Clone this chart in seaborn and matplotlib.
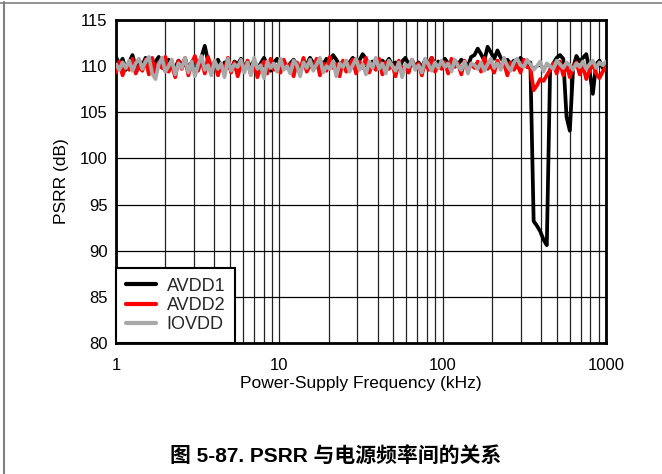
import numpy as np
import pandas as pd
import matplotlib
matplotlib.use("Agg")
import matplotlib.pyplot as plt
from matplotlib.lines import Line2D
import seaborn as sns

# ---- data ----
FREQ_KHZ = np.logspace(0, 3, 150)   # sweep points, 1 kHz .. 1000 kHz

AVDD1 = [
    111.0, 110.2, 110.8, 109.6, 110.4, 111.2, 109.9, 110.6, 110.1, 110.9,
    110.3, 109.7, 110.5, 111.0, 110.0, 109.5, 110.7, 110.2, 109.8, 110.6,
    110.1, 110.8, 109.7, 110.4, 110.9, 110.0, 111.0, 112.2, 110.5, 109.8,
    110.3, 110.7, 109.9, 110.4, 110.1, 109.6, 110.5, 110.2, 110.8, 109.9,
    110.4, 110.0, 110.6, 109.7, 110.3, 110.9, 110.1, 109.5, 110.4, 110.8,
    110.0, 110.5, 109.8, 110.3, 110.7, 110.1, 109.6, 110.4, 110.2, 110.9,
    110.3, 109.9, 110.6, 110.2, 110.8, 110.4, 111.2, 110.7, 110.1, 110.5,
    109.8, 110.4, 110.9, 110.2, 110.6, 111.3, 110.8, 110.0, 110.5, 110.3,
    109.9, 110.6, 110.2, 110.8, 110.1, 110.4, 109.7, 110.5, 110.9, 110.2,
    110.6, 110.0, 110.4, 109.8, 110.7, 110.3, 110.9, 110.1, 110.5, 110.2,
    110.8, 110.3, 109.9, 110.6, 110.2, 110.7, 110.4, 110.0, 111.0, 111.2,
    111.9, 111.3, 110.6, 112.1, 111.5, 110.8, 111.7, 110.9, 110.4, 110.7,
    110.2, 110.6, 110.3, 110.9, 110.5, 110.1, 110.4, 93.2, 92.7, 92.1,
    91.2, 90.6, 109.6, 110.3, 110.9, 111.2, 110.8, 104.5, 103.0, 109.8,
    111.1, 110.5, 110.9, 111.3, 109.5, 107.0, 110.2, 110.6, 109.8, 110.3,
]

AVDD2 = [
    109.3, 110.5, 109.0, 110.1, 109.6, 110.8, 109.2, 110.0, 109.5, 110.7,
    109.1, 110.9, 108.9, 110.4, 109.8, 111.0, 109.4, 110.2, 108.8, 110.6,
    109.7, 110.9, 109.0, 110.3, 111.1, 109.5, 110.7, 109.2, 111.0, 109.8,
    110.5, 109.0, 110.2, 109.6, 110.9, 109.3, 110.4, 108.9, 110.1, 109.7,
    110.6, 109.1, 110.3, 108.8, 109.9, 110.5, 109.2, 110.8, 109.6, 110.0,
    109.3, 110.7, 109.8, 110.2, 108.9, 110.4, 109.6, 110.9, 109.4, 110.1,
    109.7, 110.8, 109.0, 110.3, 109.5, 111.0, 109.8, 110.2, 108.9, 110.6,
    109.4, 110.1, 110.7, 109.2, 110.5, 109.8, 110.9, 109.3, 110.2, 109.6,
    110.8, 109.1, 110.4, 109.7, 110.2, 108.9, 110.6, 109.5, 110.0, 109.3,
    110.7, 109.8, 110.3, 109.0, 110.5, 109.6, 110.9, 109.4, 110.1, 109.7,
    110.4, 109.2, 110.8, 109.9, 110.3, 109.1, 110.6, 109.5, 110.2, 109.8,
    110.5, 109.4, 110.9, 109.7, 110.1, 109.3, 110.6, 109.8, 110.3, 109.0,
    110.4, 109.6, 110.2, 109.3, 110.7, 109.9, 109.8, 107.4, 107.9, 108.6,
    108.4, 109.0, 109.6, 110.3, 109.2, 110.5, 109.0, 110.2, 108.8, 109.9,
    110.4, 109.1, 110.0, 108.6, 109.5, 110.3, 109.2, 108.7, 109.4, 110.0,
]

IOVDD = [
    110.2, 109.6, 110.4, 109.8, 110.6, 109.5, 110.3, 110.8, 109.7, 110.5,
    111.0, 109.2, 108.6, 110.2, 110.9, 109.4, 110.0, 110.7, 109.1, 110.3,
    109.8, 110.9, 109.3, 110.5, 108.9, 110.2, 111.1, 109.6, 110.1, 109.0,
    110.6, 109.7, 110.3, 108.8, 110.8, 109.5, 110.2, 109.9, 110.7, 109.3,
    110.4, 109.0, 110.9, 109.7, 110.1, 108.7, 110.5, 109.8, 110.3, 109.4,
    110.8, 109.6, 110.0, 109.2, 110.6, 110.1, 108.9, 110.4, 109.8, 110.7,
    109.5, 110.2, 110.9, 109.3, 110.0, 109.7, 110.5, 108.9, 110.3, 109.9,
    110.6, 109.4, 110.1, 110.8, 109.6, 110.2, 109.1, 110.5, 109.8, 110.9,
    109.7, 110.3, 109.2, 110.6, 110.0, 109.5, 110.4, 108.8, 110.2, 109.9,
    110.7, 109.6, 110.1, 109.3, 110.8, 110.2, 109.5, 110.4, 109.8, 110.6,
    109.9, 110.3, 109.4, 110.7, 110.0, 109.6, 110.5, 109.2, 110.3, 110.1,
    109.7, 110.4, 109.5, 110.2, 110.8, 109.8, 110.3, 109.6, 110.9, 110.0,
    109.5, 110.4, 110.8, 110.1, 109.9, 110.7, 110.2, 109.6, 110.0, 110.5,
    109.4, 110.3, 110.0, 109.7, 110.6, 110.2, 109.8, 110.4, 110.1, 109.6,
    110.3, 109.9, 110.5, 109.7, 110.2, 110.6, 109.8, 110.4, 110.1, 110.5,
]

SERIES = ["AVDD1", "AVDD2", "IOVDD"]
COLORS = {"AVDD1": "#000000", "AVDD2": "#ff0000", "IOVDD": "#a8a8a8"}
Y_TICKS = [80, 85, 90, 95, 100, 105, 110, 115]
X_TICKS = [1, 10, 100, 1000]
X_TICK_LABELS = ["1", "10", "100", "1000"]

df = pd.concat([
    pd.DataFrame({"freq": FREQ_KHZ, "psrr": AVDD1, "rail": "AVDD1"}),
    pd.DataFrame({"freq": FREQ_KHZ, "psrr": AVDD2, "rail": "AVDD2"}),
    pd.DataFrame({"freq": FREQ_KHZ, "psrr": IOVDD, "rail": "IOVDD"}),
], ignore_index=True)

# ---- style ----
sns.set_theme(style="white")
plt.rcParams["font.family"] = ["Liberation Sans", "Noto Sans CJK SC", "DejaVu Sans"]

fig = plt.figure(figsize=(6.62, 4.74), dpi=100)
ax = fig.add_axes([116 / 662, 1 - 343 / 474, 490 / 662, 323 / 474])

sns.lineplot(data=df, x="freq", y="psrr", hue="rail", hue_order=SERIES,
             palette=COLORS, estimator=None, sort=False, linewidth=2.7,
             legend=False, ax=ax, zorder=3)

ax.set_xscale("log")
ax.set_xlim(1, 1000)
ax.set_ylim(80, 115)
ax.set_yticks(Y_TICKS)
ax.set_xticks(X_TICKS)
ax.set_xticklabels(X_TICK_LABELS)
ax.xaxis.set_minor_locator(matplotlib.ticker.LogLocator(base=10, subs=np.arange(2, 10)))
ax.xaxis.set_minor_formatter(matplotlib.ticker.NullFormatter())

ax.grid(True, which="both", axis="x", color="#222222", linewidth=0.9, zorder=1)
ax.grid(True, which="major", axis="y", color="#000000", linewidth=0.9, zorder=1)
ax.set_axisbelow(True)

for s in ax.spines.values():
    s.set_color("black")
    s.set_linewidth(2.0)

ax.tick_params(axis="both", which="both", length=0, labelsize=12, colors="black")
ax.tick_params(axis="x", pad=11)
ax.tick_params(axis="y", pad=6)

ax.set_xlabel("Power-Supply Frequency (kHz)", fontsize=12.5, color="black", labelpad=2)
ax.set_ylabel("PSRR (dB)", fontsize=12.5, color="black", labelpad=8)

handles = [Line2D([0], [0], color=COLORS[s], linewidth=3) for s in SERIES]
leg = ax.legend(handles, SERIES, loc="lower left", bbox_to_anchor=(0, 0),
                borderaxespad=0, fancybox=False, framealpha=1, edgecolor="black",
                fontsize=13, handlelength=1.65, handletextpad=0.6,
                labelspacing=0.12, borderpad=0.55)
leg.get_frame().set_linewidth(1.5)
leg.set_zorder(5)

fig.text(336 / 662, 1 - 456 / 474, "图 5-87. PSRR 与电源频率间的关系",
         ha="center", va="center", fontsize=15, fontweight="bold", color="black")

# page frame (top and left edges)
fig.add_artist(Line2D([0, 1], [1 - 2.5 / 474] * 2, transform=fig.transFigure,
                      color="#808080", linewidth=1.2))
fig.add_artist(Line2D([4 / 662] * 2, [0, 1 - 2 / 474], transform=fig.transFigure,
                      color="#808080", linewidth=1.5))

fig.savefig("out.png", dpi=100)
